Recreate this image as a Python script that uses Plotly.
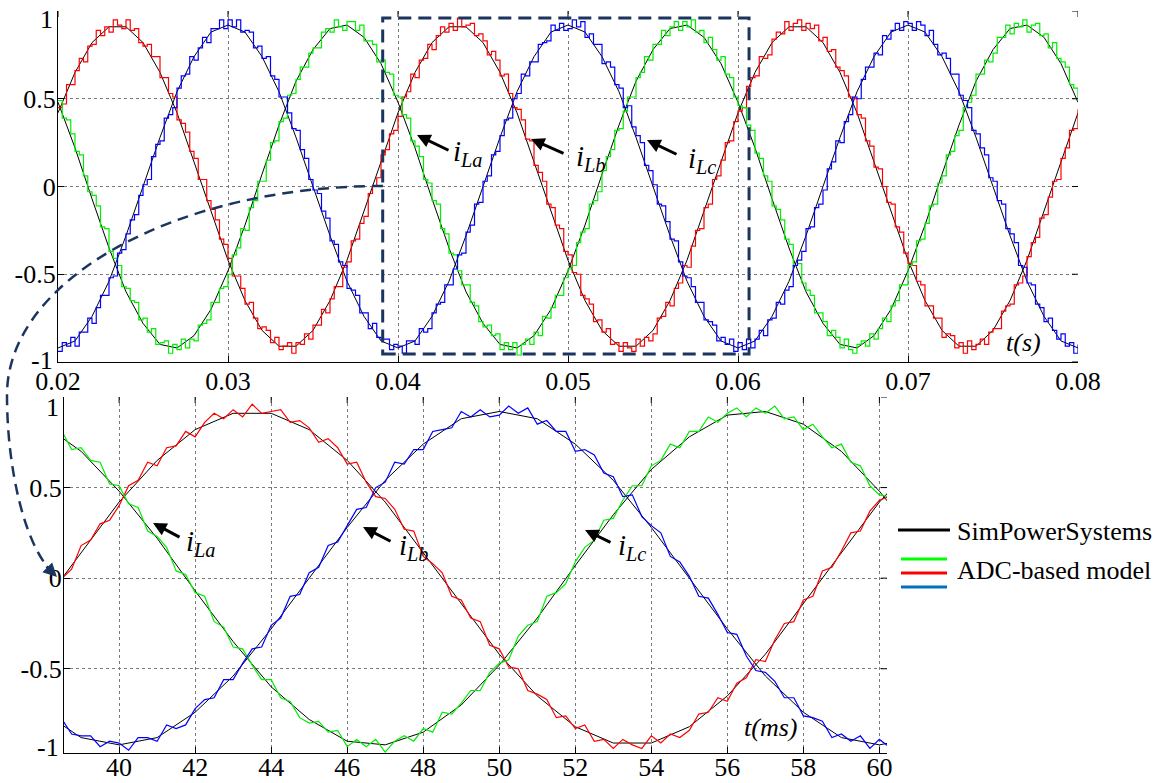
import plotly.graph_objects as go

W, H = 1164, 783
FONT = "Liberation Serif"

# ADC-based model phase currents (p.u.), one sample every 0.25 ms from 20 ms to 80 ms
t_ms = [20 + 0.25 * k for k in range(241)]

adc_a = [
    .45, .47, .58, .58, .66, .73, .71, .80, .81, .89, .86, .91, .88, .95, .92, .90, .95, .89, .90, .82,
    .80, .81, .74, .74, .62, .62, .53, .51, .38, .36, .31, .20, .16, .04, .04, -.08, -.13, -.19, -.30, -.33,
    -.41, -.51, -.51, -.58, -.67, -.66, -.75, -.81, -.80, -.82, -.89, -.86, -.93, -.91, -.89, -.95, -.89, -.90, -.84, -.87,
    -.79, -.79, -.70, -.72, -.64, -.57, -.57, -.46, -.43, -.31, -.30, -.21, -.17, -.04, 0, .05, .18, .21, .30, .32,
    .40, .51, .54, .64, .62, .72, .73, .81, .78, .86, .91, .88, .93, .89, .96, .91, .92, .93, .86, .87,
    .83, .75, .77, .72, .63, .64, .53, .45, .44, .38, .27, .26, .12, .08, .03, -.10, -.12, -.22, -.24, -.37,
    -.39, -.49, -.50, -.62, -.64, -.67, -.77, -.76, -.83, -.81, -.90, -.89, -.94, -.89, -.92, -.94, -.87, -.91, -.86, -.88,
    -.84, -.75, -.74, -.66, -.68, -.58, -.55, -.45, -.46, -.34, -.25, -.24, -.12, -.10, .04, .06, .15, .25, .26, .37,
    .43, .45, .57, .62, .63, .74, .73, .75, .84, .88, .87, .94, .89, .93, .95, .89, .93, .90, .92, .83,
    .85, .77, .78, .68, .66, .63, .51, .50, .41, .39, .26, .23, .11, .10, 0, -.09, -.10, -.23, -.26, -.38,
    -.44, -.45, -.54, -.56, -.68, -.68, -.75, -.75, -.86, -.84, -.85, -.92, -.89, -.95, -.88, -.93, -.90, -.87, -.90, -.83,
    -.81, -.81, -.71, -.68, -.67, -.56, -.55, -.51, -.40, -.32, -.29, -.18, -.16, -.06, .03, .04, .16, .22, .32, .33,
    .44,
]

adc_b = [
    -.94, -.89, -.91, -.86, -.91, -.83, -.83, -.75, -.78, -.69, -.62, -.62, -.52, -.51, -.38, -.36, -.27, -.19, -.16, -.05,
    .01, .04, .17, .24, .26, .39, .41, .45, .56, .63, .64, .74, .72, .79, .85, .82, .90, .90, .95, .90,
    .95, .91, .95, .88, .89, .88, .79, .80, .73, .74, .63, .61, .51, .51, .42, .33, .32, .21, .16, .04,
    -.02, -.04, -.14, -.18, -.31, -.33, -.43, -.45, -.58, -.59, -.62, -.72, -.72, -.81, -.78, -.86, -.87, -.87, -.93, -.90,
    -.91, -.95, -.88, -.88, -.90, -.81, -.83, -.81, -.72, -.67, -.66, -.56, -.56, -.47, -.39, -.38, -.26, -.22, -.10, -.09,
    .03, .06, .18, .20, .29, .38, .39, .50, .53, .64, .63, .71, .71, .81, .82, .83, .92, .89, .93, .89,
    .90, .95, .91, .94, .85, .87, .81, .81, .70, .71, .68, .58, .56, .45, .46, .34, .29, .25, .12, .09,
    .01, -.10, -.11, -.20, -.30, -.31, -.43, -.51, -.52, -.57, -.66, -.66, -.76, -.77, -.79, -.88, -.86, -.90, -.87, -.94,
    -.89, -.93, -.87, -.92, -.87, -.82, -.85, -.76, -.75, -.66, -.67, -.59, -.57, -.45, -.42, -.37, -.24, -.23, -.12, -.10,
    -.02, .10, .14, .26, .25, .37, .41, .51, .50, .61, .68, .68, .76, .75, .86, .84, .89, .93, .89, .94,
    .93, .89, .94, .92, .86, .89, .81, .75, .76, .73, .64, .64, .52, .49, .45, .32, .30, .22, .18, .05,
    .03, -.08, -.10, -.24, -.27, -.32, -.45, -.46, -.55, -.56, -.67, -.69, -.77, -.75, -.82, -.87, -.84, -.91, -.89, -.95,
    -.90,
]

adc_c = [
    .49, .39, .38, .30, .20, .18, .06, -.03, -.05, -.11, -.23, -.24, -.37, -.41, -.45, -.57, -.58, -.65, -.66, -.76,
    -.75, -.83, -.81, -.90, -.89, -.88, -.95, -.90, -.93, -.87, -.92, -.87, -.88, -.79, -.78, -.76, -.66, -.66, -.58, -.57,
    -.50, -.39, -.35, -.24, -.25, -.12, -.08, .03, .03, .15, .25, .26, .37, .39, .52, .53, .61, .68, .68, .76,
    .79, .79, .88, .90, .88, .95, .91, .89, .94, .94, .89, .92, .83, .83, .81, .71, .72, .65, .64, .52,
    .51, .41, .39, .26, .23, .17, .04, .02, -.08, -.10, -.24, -.27, -.38, -.39, -.48, -.56, -.56, -.66, -.68, -.77,
    -.80, -.79, -.85, -.84, -.93, -.89, -.93, -.89, -.96, -.90, -.87, -.90, -.83, -.85, -.74, -.75, -.69, -.62, -.62, -.52,
    -.47, -.45, -.32, -.26, -.24, -.10, -.08, -.03, .09, .17, .21, .32, .33, .43, .51, .51, .62, .65, .74, .72,
    .81, .81, .89, .86, .91, .94, .89, .94, .91, .95, .88, .89, .82, .85, .78, .72, .74, .64, .62, .51,
    .46, .45, .35, .32, .19, .16, .06, .03, -.11, -.13, -.19, -.30, -.33, -.45, -.44, -.55, -.59, -.62, -.72, -.72,
    -.77, -.85, -.82, -.86, -.92, -.87, -.93, -.95, -.90, -.88, -.91, -.84, -.87, -.81, -.75, -.77, -.68, -.65, -.56, -.56,
    -.45, -.43, -.31, -.30, -.21, -.11, -.10, .02, .06, .18, .20, .29, .32, .45, .48, .52, .64, .64, .72, .71,
    .76, .85, .85, .92, .87, .93, .91, .95, .88, .92, .93, .86, .87, .79, .82, .73, .71, .68, .58, .56,
    .49,
]

# SimPowerSystems reference currents, one sample every 1 ms
ref_t_ms = [20 + k for k in range(61)]

sps_a = [
    .42, .65, .82, .91, .91, .82, .65, .42, .14, -.14,
    -.42, -.65, -.82, -.91, -.91, -.82, -.65, -.42, -.14, .14,
    .42, .65, .82, .91, .91, .82, .65, .42, .14, -.14,
    -.42, -.65, -.82, -.91, -.91, -.82, -.65, -.42, -.14, .14,
    .42, .65, .82, .91, .91, .82, .65, .42, .14, -.14,
    -.42, -.65, -.82, -.91, -.91, -.82, -.65, -.42, -.14, .14,
    .42,
]
sps_b = [
    -.92, -.88, -.74, -.54, -.28, 0, .28, .54, .74, .88,
    .92, .88, .74, .54, .28, 0, -.28, -.54, -.74, -.88,
    -.92, -.88, -.74, -.54, -.28, 0, .28, .54, .74, .88,
    .92, .88, .74, .54, .28, 0, -.28, -.54, -.74, -.88,
    -.92, -.88, -.74, -.54, -.28, 0, .28, .54, .74, .88,
    .92, .88, .74, .54, .28, 0, -.28, -.54, -.74, -.88,
    -.92,
]
sps_c = [
    .48, .22, -.07, -.35, -.60, -.78, -.90, -.92, -.85, -.70,
    -.48, -.22, .07, .35, .60, .78, .90, .92, .85, .70,
    .48, .22, -.07, -.35, -.60, -.78, -.90, -.92, -.85, -.70,
    -.48, -.22, .07, .35, .60, .78, .90, .92, .85, .70,
    .48, .22, -.07, -.35, -.60, -.78, -.90, -.92, -.85, -.70,
    -.48, -.22, .07, .35, .60, .78, .90, .92, .85, .70,
    .48,
]

# axis ticks
top_xticks = [0.02, 0.03, 0.04, 0.05, 0.06, 0.07, 0.08]
top_xtext = ["0.02", "0.03", "0.04", "0.05", "0.06", "0.07", "0.08"]
y_ticks = [-1, -0.5, 0, 0.5, 1]
y_text = ["-1", "-0.5", "0", "0.5", "1"]
zoom_xticks = [40, 42, 44, 46, 48, 50, 52, 54, 56, 58, 60]
zoom_xtext = ["40", "42", "44", "46", "48", "50", "52", "54", "56", "58", "60"]
zoom_range_ms = [38.55, 60.2]
zoom_box_s = [0.0391, 0.06065]

RED, GREEN, BLUE = "#ff0000", "#00ee00", "#0000ff"
NAVY = "#1c355e"


def px(x):
    return x / W


def py(y):
    return 1 - y / H


fig = go.Figure()

ref_sets = [sps_a, sps_c, sps_b]
adc_sets = [(adc_a, RED), (adc_c, GREEN), (adc_b, BLUE)]

# full-length view, seconds: the sampled ADC output is drawn as a staircase
for s in ref_sets:
    fig.add_trace(go.Scatter(x=[t / 1000 for t in ref_t_ms], y=s, mode="lines",
                             line=dict(color="black", width=1.0),
                             xaxis="x", yaxis="y", hoverinfo="skip"))
for s, c in adc_sets:
    fig.add_trace(go.Scatter(x=[t / 1000 for t in t_ms], y=s, mode="lines",
                             line=dict(color=c, width=1.2, shape="hv"),
                             xaxis="x", yaxis="y", hoverinfo="skip"))

# zoomed view, milliseconds
for s in ref_sets:
    fig.add_trace(go.Scatter(x=ref_t_ms, y=s, mode="lines",
                             line=dict(color="black", width=1.0),
                             xaxis="x2", yaxis="y2", hoverinfo="skip"))
for s, c in adc_sets:
    fig.add_trace(go.Scatter(x=t_ms, y=s, mode="lines",
                             line=dict(color=c, width=1.2),
                             xaxis="x2", yaxis="y2", hoverinfo="skip"))

axis_style = dict(
    showline=True, linecolor="black", linewidth=1.3,
    ticks="inside", ticklen=6, tickwidth=1, tickcolor="black",
    showgrid=True, gridcolor="#7a7a7a", gridwidth=1, griddash="dot",
    zeroline=False, automargin=False, fixedrange=True,
    tickfont=dict(family=FONT, size=26, color="black"),
)

fig.update_layout(
    width=W, height=H,
    margin=dict(l=0, r=0, t=0, b=0),
    paper_bgcolor="white", plot_bgcolor="white",
    font=dict(family=FONT, size=26, color="black"),
    showlegend=False,
    xaxis=dict(axis_style, domain=[px(58), px(1078)], range=[0.02, 0.08],
               tickmode="array", tickvals=top_xticks, ticktext=top_xtext,
               ticklabelstandoff=-4, anchor="y"),
    yaxis=dict(axis_style, domain=[py(362), py(11)], range=[-1, 1],
               tickmode="array", tickvals=y_ticks,
               ticktext=["", "-0.5", "0", "0.5", ""],
               ticklabelstandoff=-4, anchor="x"),
    xaxis2=dict(axis_style, domain=[px(64), px(887)], range=zoom_range_ms,
                tickmode="array", tickvals=zoom_xticks, ticktext=zoom_xtext,
                ticklabelstandoff=-9, anchor="y2"),
    yaxis2=dict(axis_style, domain=[py(753), py(397)], range=[-0.965, 1],
                tickmode="array", tickvals=y_ticks[1:],
                ticktext=["-0.5", "0", "0.5", ""], ticklabelstandoff=-4,
                anchor="x2"),
)

shapes = []

# tick marks mirrored on the top and right edges of both panels
for xa, ya, xt in (("x", "y", top_xticks), ("x2", "y2", zoom_xticks)):
    for v in xt:
        shapes.append(dict(type="line", xref=xa, yref=ya + " domain",
                           ysizemode="pixel", yanchor=1, x0=v, x1=v, y0=0, y1=-6,
                           line=dict(color="black", width=1)))
for xa, ya, yt in (("x", "y", y_ticks), ("x2", "y2", y_ticks[1:])):
    for v in yt:
        shapes.append(dict(type="line", xref=xa + " domain", yref=ya,
                           xsizemode="pixel", xanchor=1, x0=0, x1=-6, y0=v, y1=v,
                           line=dict(color="black", width=1)))

# zoom window on the upper panel
shapes.append(dict(type="rect", xref="x", yref="y",
                   x0=zoom_box_s[0], x1=zoom_box_s[1], y0=-0.954, y1=0.96,
                   line=dict(color=NAVY, width=3, dash="13px,7px")))

# dashed connector from the zoom window down to the lower panel
curve = (f"M {px(383)},{py(186)} "
         f"C {px(175)},{py(186)} {px(7)},{py(280)} {px(7)},{py(395)} "
         f"C {px(7)},{py(470)} {px(25)},{py(545)} {px(52)},{py(572)}")
shapes.append(dict(type="path", xref="paper", yref="paper", path=curve,
                   line=dict(color=NAVY, width=2.5, dash="11px,7px")))

# legend samples
for (x0, x1, y, c) in ((898, 950, 530, "black"), (901, 947, 559, "#00ff00"),
                       (901, 947, 573, RED), (901, 947, 587, "#0070c0")):
    shapes.append(dict(type="line", xref="paper", yref="paper",
                       x0=px(x0), x1=px(x1), y0=py(y), y1=py(y),
                       line=dict(color=c, width=3)))

fig.update_layout(shapes=shapes)

ann = []


def label(x, y, text, size=26, anchor="left", box_h=None):
    a = dict(xref="paper", yref="paper", x=px(x), y=py(y), text=text,
             showarrow=False, xanchor=anchor, yanchor="middle",
             font=dict(family=FONT, size=size, color="black"))
    if box_h:
        a.update(height=box_h, valign="middle")
    ann.append(a)


def arrow(head, tail, color="black", width=3, size=0.9):
    ann.append(dict(xref="paper", yref="paper", x=px(head[0]), y=py(head[1]),
                    ax=tail[0] - head[0], ay=tail[1] - head[1],
                    axref="pixel", ayref="pixel", text="", showarrow=True,
                    arrowhead=2, arrowsize=size, arrowwidth=width,
                    arrowcolor=color, standoff=0))


# phase labels with pointers
for (txt, head, tail, pos) in (
    ("La", (417, 135), (450, 151), (451, 153)),
    ("Lb", (531, 139), (565, 154), (574, 158)),
    ("Lc", (647, 140), (678, 155), (686, 160)),
    ("La", (153, 523), (181, 538), (184, 543)),
    ("Lb", (363, 527), (392, 542), (397, 547)),
    ("Lc", (585, 530), (612, 543), (616, 547)),
):
    arrow(head, tail)
    label(pos[0], pos[1], f"<i>i<sub>{txt}</sub></i>", size=29)

# connector arrow tip
arrow((57, 577), (45, 565), color=NAVY, width=2.5, size=1.1)

# time-axis captions
label(1004, 342, "<i>t(s)</i>")
label(742, 727, "<i>t(ms)</i>")

# end labels of the value axes sit just inside the frames
label(55, 19, "1", anchor="right", box_h=20)
label(55, 360, "-1", anchor="right", box_h=18)
label(61, 407, "1", anchor="right", box_h=18)
label(61, 747, "-1", anchor="right", box_h=20)

# legend text
label(955, 531, "SimPowerSystems")
label(955, 570, "ADC-based model")

fig.update_layout(annotations=ann)

fig.write_html("out.html", config={"displayModeBar": False})
